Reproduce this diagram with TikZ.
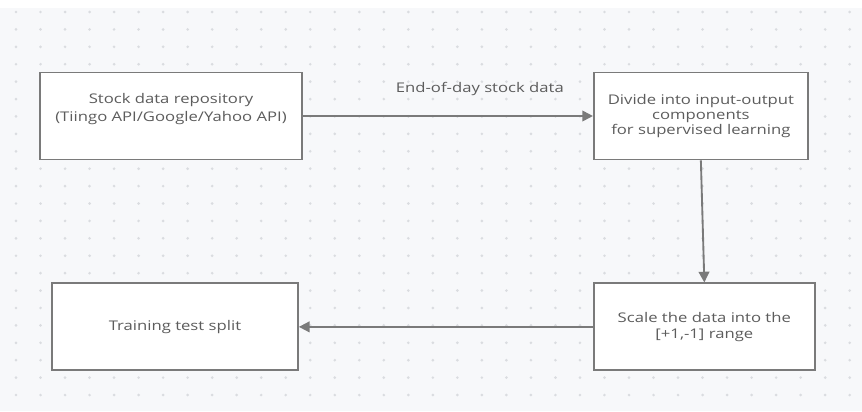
\documentclass[tikz,border=0pt]{standalone}
\usepackage{fontspec}
\setmainfont{Open Sans}[FakeStretch=1.25]
\usepackage{tikz}
\usetikzlibrary{positioning, arrows.meta}
\definecolor{linegrey}{HTML}{7A7A7A}
\definecolor{textgrey}{HTML}{5C5C5C}
\definecolor{paper}{HTML}{F7F8FA}
\definecolor{dotgrey}{HTML}{DADCE0}
\tikzstyle{stage} = [rectangle, 
minimum height=65.25pt, 
text centered, 
align=center, 
font=\fontsize{10}{12}\selectfont, 
text=textgrey, 
fill=white, 
draw=linegrey, 
line width=1.4pt]
\tikzstyle{arrow} = [line width=1.4pt, draw=linegrey, -{Triangle[length=8pt,width=8pt]}]

\begin{document}
\begin{tikzpicture}[x=0.75pt,y=-0.75pt]
            \useasboundingbox (0,0) rectangle (862,411);
            \fill[paper] (0,8) rectangle (862,411);
            \foreach \i in {0,...,34}
                \foreach \j in {0,...,22}
                    \fill[dotgrey] (16+24.52*\i,12+17.41*\j) circle (1.1pt);

            \node (repo) [stage, minimum width=196.5pt, font=\fontsize{10}{13.5}\selectfont] at (171,116) {Stock data repository\\(Tiingo API/Google/Yahoo API)\\[-4pt]\strut};
            \node (divide) [stage, minimum width=160.5pt, font=\fontsize{10}{11.5}\selectfont, right=217.5pt of repo] {Divide into input-output\\components\\ for supervised learning};
            \node (scale) [stage, minimum width=165.75pt, below=91.5pt of divide, xshift=2.6pt] {Scale the data into the\\{[}+1,-1{]} range};
            \node (split) [stage, minimum width=184.5pt, left=220.5pt of scale] {Training test split};

            \draw [arrow] (repo) -- node[pos=0.61, yshift=20pt, text=textgrey, font=\fontsize{10}{12}\selectfont] (eod) {End-of-day stock data} (divide);
            \draw [arrow] (divide.south) -- (scale.north);
            \draw [arrow] (scale) -- (split);
        \end{tikzpicture}
\end{document}
